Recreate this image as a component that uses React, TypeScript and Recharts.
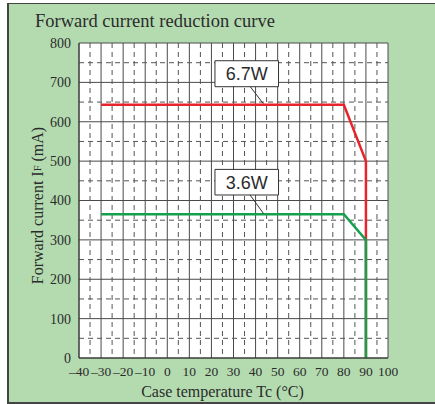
import React from 'react';
import {
  LineChart,
  Line,
  XAxis,
  YAxis,
  CartesianGrid,
  ReferenceLine,
  ReferenceArea,
  Label
} from 'recharts';

// case temperature (°C) vs forward current (mA)
const curve67W = [
  { t: -30, i: 643 },
  { t: 80, i: 643 },
  { t: 90, i: 500 },
  { t: 90, i: 0 }
];
const curve36W = [
  { t: -30, i: 365 },
  { t: 80, i: 365 },
  { t: 90, i: 300 },
  { t: 90, i: 0 }
];

const xTicks = [-40, -30, -20, -10, 0, 10, 20, 30, 40, 50, 60, 70, 80, 90, 100];
const yTicks = [0, 100, 200, 300, 400, 500, 600, 700, 800];
const xMinor = [-35, -25, -15, -5, 5, 15, 25, 35, 45, 55, 65, 75, 85, 95];
const yMinor = [50, 150, 250, 350, 450, 550, 650, 750];
const xDomain = [-40, 100];
const yDomain = [0, 800];

// callout boxes: [x1, x2, y1, y2] and leader [x, y] -> [x, y]
const callouts = [
  { text: '6.7W', box: [21.6, 50.4, 689, 755], leader: [[37.6, 689], [43.5, 646]] },
  { text: '3.6W', box: [21.6, 50.4, 414, 479], leader: [[37.5, 414], [43.6, 367]] }
];

const serif = '"Liberation Serif", "Times New Roman", serif';
const ink = '#2b2b2b';

const fmt = (v: number) => (v < 0 ? '\u2013' + Math.abs(v) : String(v));

const mapX = (props: any, v: number) => {
  const s = props.xAxis && props.xAxis.scale;
  if (typeof s === 'function') return s(v);
  const o = props.offset;
  return o.left + ((v - xDomain[0]) / (xDomain[1] - xDomain[0])) * o.width;
};
const mapY = (props: any, v: number) => {
  const s = props.yAxis && props.yAxis.scale;
  if (typeof s === 'function') return s(v);
  const o = props.offset;
  return o.top + o.height - ((v - yDomain[0]) / (yDomain[1] - yDomain[0])) * o.height;
};

function YLabel(props: any) {
  const vb = props.viewBox || {};
  const cx = 37;
  const cy = vb.y + vb.height / 2 + 5;
  return (
    <text
      x={cx}
      y={cy}
      transform={`rotate(-90 ${cx} ${cy})`}
      textAnchor="middle"
      dominantBaseline="central"
      fontFamily={serif}
      fontSize={16}
      fill={ink}
    >
      Forward current I<tspan fontSize={10.5}>F</tspan> (mA)
    </text>
  );
}

export default function App() {
  return (
    <div style={{ position: 'absolute', left: 0, top: 0, width: 435, height: 404, background: '#fff' }}>
      <div
        style={{
          position: 'absolute',
          left: 7,
          top: 3,
          width: 428,
          height: 398,
          background: '#b4dbb0',
          borderLeft: '2px solid #444',
          borderTop: '1px solid #444',
          borderBottom: '2px solid #444'
        }}
      />
      <div
        style={{
          position: 'absolute',
          left: 35,
          top: 10,
          fontFamily: serif,
          fontSize: 18.5,
          lineHeight: '22px',
          color: ink,
          whiteSpace: 'nowrap'
        }}
      >
        Forward current reduction curve
      </div>
      <div style={{ position: 'absolute', left: 0, top: 0 }}>
        <LineChart width={435} height={404} margin={{ top: 43, right: 47, left: 39, bottom: 16 }}>
          <CartesianGrid fill="#fff" stroke="#4a4a4a" strokeWidth={1} />
          <CartesianGrid
            stroke="#555"
            strokeDasharray="5 4"
            verticalCoordinatesGenerator={(p: any) => xMinor.map((v) => mapX(p, v))}
            horizontalCoordinatesGenerator={(p: any) => yMinor.map((v) => mapY(p, v))}
          />
          <XAxis
            type="number"
            dataKey="t"
            domain={xDomain}
            ticks={xTicks}
            interval={0}
            tickFormatter={fmt}
            tickLine={false}
            axisLine={{ stroke: '#333' }}
            fontSize={13.5}
            fontFamily={serif}
            tick={{ fill: ink, fontFamily: serif, fontSize: 13.5 }}
            height={30}
            allowDataOverflow
          >
            <Label
              value="Case temperature Tc (°C)"
              position="insideBottom"
              offset={-9}
              dx={-11}
              style={{ fontFamily: serif, fontSize: 16, fill: ink }}
            />
          </XAxis>
          <YAxis
            type="number"
            dataKey="i"
            domain={yDomain}
            ticks={yTicks}
            interval={0}
            tickLine={false}
            axisLine={{ stroke: '#333' }}
            fontSize={14}
            fontFamily={serif}
            tick={{ fill: ink, fontFamily: serif, fontSize: 14 }}
            width={40}
            allowDataOverflow
          >
            <Label content={<YLabel />} />
          </YAxis>
          <Line
            data={curve67W}
            dataKey="i"
            stroke="#e8232b"
            strokeWidth={2.5}
            dot={false}
            isAnimationActive={false}
          />
          <Line
            data={curve36W}
            dataKey="i"
            stroke="#14a04c"
            strokeWidth={2.5}
            dot={false}
            isAnimationActive={false}
          />
          {callouts.map((c) => (
            <ReferenceLine
              key={'l' + c.text}
              segment={[
                { x: c.leader[0][0], y: c.leader[0][1] },
                { x: c.leader[1][0], y: c.leader[1][1] }
              ]}
              stroke="#333"
              strokeWidth={1}
            />
          ))}
          {callouts.map((c) => (
            <ReferenceArea
              key={'b' + c.text}
              x1={c.box[0]}
              x2={c.box[1]}
              y1={c.box[2]}
              y2={c.box[3]}
              fill="#fff"
              fillOpacity={1}
              stroke="#333"
              strokeWidth={1}
            >
              <Label
                value={c.text}
                position="center"
                style={{ fontFamily: '"Liberation Sans", Arial, sans-serif', fontSize: 18, fill: ink }}
              />
            </ReferenceArea>
          ))}
        </LineChart>
      </div>
    </div>
  );
}
